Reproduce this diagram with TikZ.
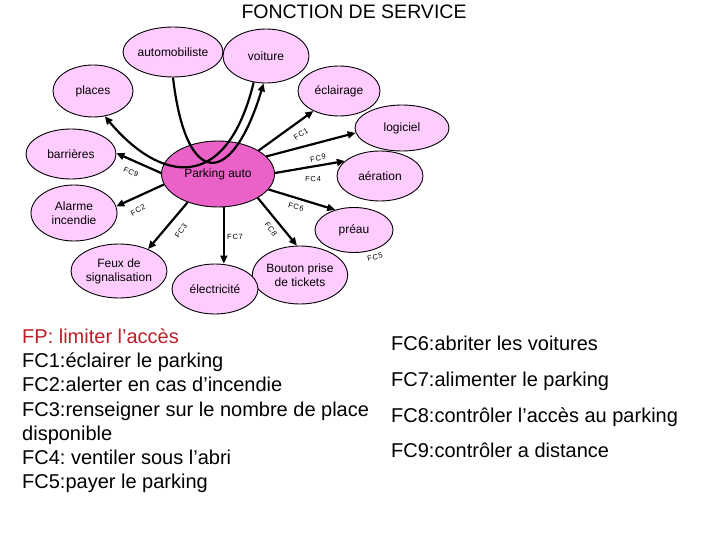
\documentclass[tikz,border=0pt]{standalone}
\usepackage{fontspec}
\setmainfont{Liberation Sans}
\newfontfamily\fcfont[LetterSpace=10]{Liberation Sans}
\usetikzlibrary{shapes.geometric,arrows.meta}
\definecolor{lightpink}{RGB}{255,204,255}
\definecolor{hotpink}{RGB}{234,98,200}
\definecolor{fpred}{RGB}{190,30,40}
\frenchspacing
\tikzset{
  bubble/.style={ellipse,draw=black,line width=0.9pt,fill=lightpink,inner sep=0pt,
    font=\fontsize{12}{14}\selectfont,align=center},
  conn/.style={line width=2.2pt,-{Triangle[length=8pt,width=7pt]}},
  fclab/.style={font=\fcfont\fontsize{7.5}{8}\selectfont,inner sep=0pt},
  legend/.style={font=\fontsize{20}{24}\selectfont,anchor=base west,inner sep=0pt}
}
\begin{document}
\begin{tikzpicture}[x=1pt,y=-1pt]
\useasboundingbox (0,0) rectangle (720,540);
\fill[white] (0,0) rectangle (720,540);

\node[font=\fontsize{19.5}{22}\selectfont,inner sep=0pt] (title) at (354,12) {FONCTION DE SERVICE};

% bubbles
\node[bubble,minimum width=90pt,minimum height=50pt] (auto) at (173,52) {automobiliste};
\node[bubble,minimum width=86pt,minimum height=54pt] (voiture) at (266,56) {voiture};
\node[bubble,minimum width=80pt,minimum height=52pt] (places) at (93,91) {places};
\node[bubble,minimum width=82pt,minimum height=50pt] (eclairage) at (339,91) {éclairage};
\node[bubble,minimum width=94pt,minimum height=46pt] (logiciel) at (402,128) {logiciel};
\node[bubble,minimum width=90pt,minimum height=50pt] (barrieres) at (71,154) {barrières};
\node[bubble,minimum width=86pt,minimum height=50pt] (aeration) at (380,176) {aération};
\node[bubble,minimum width=86pt,minimum height=56pt] (alarme) at (74,213) {Alarme\\incendie};
\node[bubble,minimum width=78pt,minimum height=45pt] (preau) at (354,230) {préau};
\node[bubble,minimum width=96pt,minimum height=54pt] (feux) at (119,271) {Feux de\\signalisation};
\node[bubble,minimum width=84pt,minimum height=58pt] (bouton) at (300,275) {Bouton prise\\de tickets};
\node[bubble,minimum width=86pt,minimum height=50pt] (elec) at (215,289) {électricité};
\node[bubble,fill=hotpink,minimum width=113pt,minimum height=66pt] (parking) at (218,174) {Parking auto};

% FP curves
\draw[conn] (auto.south) .. controls (186,190) and (232,188) .. (voiture.-95);
\draw[conn] (voiture.-115) .. controls (226,195) and (160,182) .. (places.-65);

% FC connectors
\draw[conn] (parking.30) -- (eclairage.-142);
\draw[conn] (parking.20) -- (logiciel.186);
\draw[conn] (parking.1) -- (aeration.157);
\draw[conn] (parking.-17) -- (preau.133);
\draw[conn] (parking.-31) -- (bouton.96);
\draw[conn] (parking.-80) -- (parking.-80 |- elec.north);
\draw[conn] (parking.-137) -- (feux.37);
\draw[conn] (parking.191) -- (alarme.9);
\draw[conn] (parking.179) -- (barrieres.1);

% FC labels
\node[fclab,rotate=33] (l1) at (301,134) {FC1};
\node[fclab,rotate=12] (l9a) at (318,158) {FC9};
\node[fclab,rotate=-3] (l4) at (313,179) {FC4};
\node[fclab,rotate=-15] (l6) at (296,207) {FC6};
\node[fclab,rotate=-55] (l8) at (271,229) {FC8};
\node[fclab] (l7) at (235,237) {FC7};
\node[fclab,rotate=55] (l3) at (181,231) {FC3};
\node[fclab,rotate=30] (l2) at (138,210) {FC2};
\node[fclab,rotate=-25] (l9b) at (131,172) {FC9};
\node[fclab,rotate=15] (l5) at (375,257) {FC5};

% legend left
\node[legend,text=fpred] (t0) at (22,343) {FP: limiter l’accès};
\node[legend] (t1) at (22,367) {FC1:éclairer le parking};
\node[legend] (t2) at (22,391.5) {FC2:alerter en cas d’incendie};
\node[legend] (t3) at (22,416) {FC3:renseigner sur le nombre de place};
\node[legend] (t3b) at (22,440) {disponible};
\node[legend] (t4) at (22,464) {FC4: ventiler sous l’abri};
\node[legend] (t5) at (22,488) {FC5:payer le parking};

% legend right
\node[legend] (r6) at (391,350) {FC6:abriter les voitures};
\node[legend] (r7) at (391,386) {FC7:alimenter le parking};
\node[legend] (r8) at (391,422) {FC8:contrôler l’accès au parking};
\node[legend] (r9) at (391,457) {FC9:contrôler a distance};
\end{tikzpicture}
\end{document}
